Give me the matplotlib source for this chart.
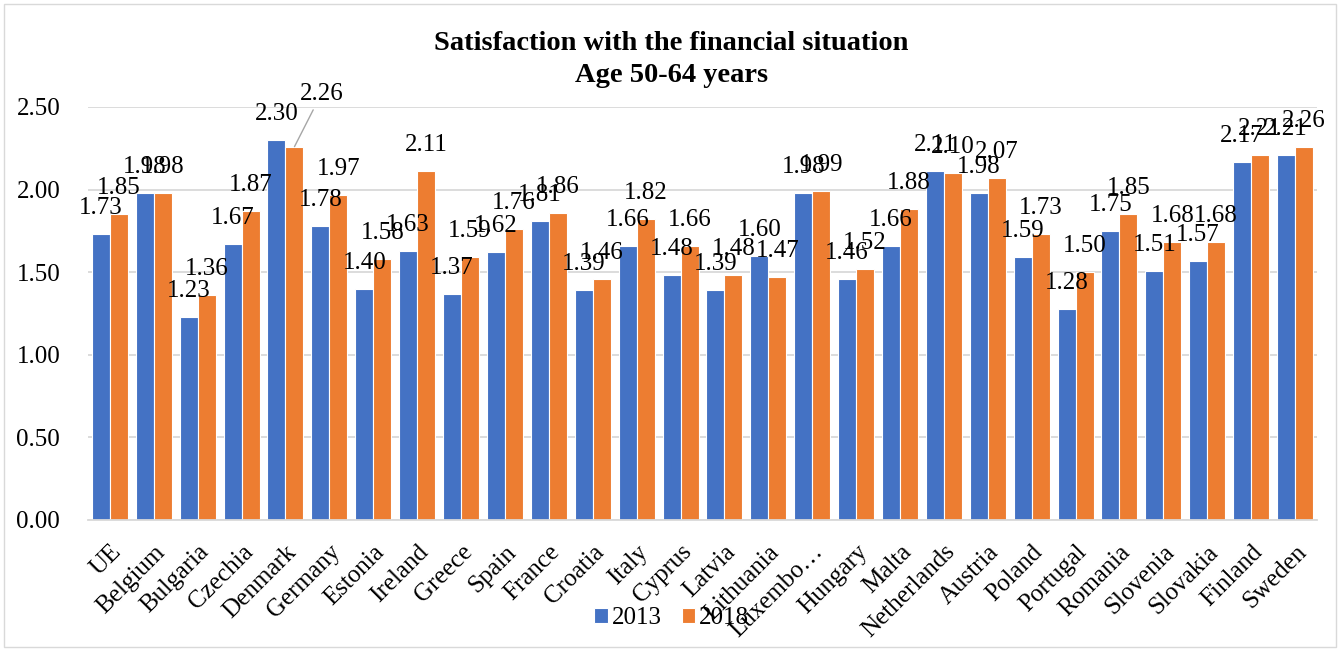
import matplotlib
matplotlib.use('Agg')
import matplotlib.pyplot as plt
import numpy as np
from matplotlib.patches import Rectangle

countries = ['UE', 'Belgium', 'Bulgaria', 'Czechia', 'Denmark', 'Germany', 'Estonia',
             'Ireland', 'Greece', 'Spain', 'France', 'Croatia', 'Italy', 'Cyprus',
             'Latvia', 'Lithuania', 'Luxembo…', 'Hungary', 'Malta', 'Netherlands',
             'Austria', 'Poland', 'Portugal', 'Romania', 'Slovenia', 'Slovakia',
             'Finland', 'Sweden']
v2013 = [1.73, 1.98, 1.23, 1.67, 2.30, 1.78, 1.40, 1.63, 1.37, 1.62, 1.81, 1.39, 1.66, 1.48,
         1.39, 1.60, 1.98, 1.46, 1.66, 2.11, 1.98, 1.59, 1.28, 1.75, 1.51, 1.57, 2.17, 2.21]
v2018 = [1.85, 1.98, 1.36, 1.87, 2.26, 1.97, 1.58, 2.11, 1.59, 1.76, 1.86, 1.46, 1.82, 1.66,
         1.48, 1.47, 1.99, 1.52, 1.88, 2.10, 2.07, 1.73, 1.50, 1.85, 1.68, 1.68, 2.21, 2.26]
yticks = [0.0, 0.5, 1.0, 1.5, 2.0, 2.5]

plt.rcParams['font.family'] = ['Liberation Serif', 'DejaVu Serif']
blue = '#4472C4'
orange = '#ED7D31'

fig, ax = plt.subplots(figsize=(13.43, 6.5), dpi=100)
fig.subplots_adjust(left=0.0655, right=0.9806, bottom=0.2, top=0.8354)

x = np.arange(len(countries))
w = 0.41
b1 = ax.bar(x - w / 2, v2013, w, color=blue, edgecolor='white', lw=0.8, label='2013')
b2 = ax.bar(x + w / 2, v2018, w, color=orange, edgecolor='white', lw=0.8, label='2018')

for bars, vals in ((b1, v2013), (b2, v2018)):
    for i, (bar, v) in enumerate(zip(bars, vals)):
        xc = bar.get_x() + bar.get_width() / 2
        if bars is b2 and countries[i] == 'Denmark':
            # this one label was dragged away in the original, with a leader line
            ax.annotate(f'{v:.2f}', xy=(xc, v), xytext=(27, 53), textcoords='offset pixels',
                        ha='center', va='center', fontsize=18, annotation_clip=False,
                        arrowprops=dict(arrowstyle='-', color='#A6A6A6', lw=1,
                                        shrinkA=2, shrinkB=0))
        else:
            ax.annotate(f'{v:.2f}', xy=(xc, v), xytext=(0, 26), textcoords='offset pixels',
                        ha='center', va='center', fontsize=18, annotation_clip=False)

ax.set_xlim(-0.5, len(countries) - 0.5)
ax.set_ylim(0, 2.5)
ax.set_yticks(yticks)
ax.set_yticklabels([f'{t:.2f}' for t in yticks], fontsize=18)
ax.set_xticks(x)
ax.set_xticklabels(countries, fontsize=18, rotation=45, ha='right',
                   rotation_mode='anchor')
ax.tick_params(axis='both', length=0)
ax.tick_params(axis='y', pad=20)
ax.tick_params(axis='x', pad=15)
ax.grid(axis='y', color='#D9D9D9', lw=1.3)
ax.set_axisbelow(True)
for s in ['top', 'right', 'left']:
    ax.spines[s].set_visible(False)
ax.spines['bottom'].set_color('#D9D9D9')
ax.spines['bottom'].set_linewidth(1.3)

fig.text(0.5, 1 - 44 / 650, 'Satisfaction with the financial situation',
         ha='center', va='center', fontsize=20.5, fontweight='bold')
fig.text(0.5, 1 - 75 / 650, 'Age 50-64 years',
         ha='center', va='center', fontsize=20.5, fontweight='bold')

fig.legend(loc='center', bbox_to_anchor=(0.5, 1 - 618 / 650), ncol=2, frameon=False,
           fontsize=18, handlelength=0.55, handleheight=0.55, handletextpad=0.15,
           columnspacing=0.8)

fig.add_artist(Rectangle((0.003, 0.004), 0.992, 0.99, transform=fig.transFigure,
                         fill=False, edgecolor='#D9D9D9', lw=1))

fig.savefig('out.png', dpi=100)
